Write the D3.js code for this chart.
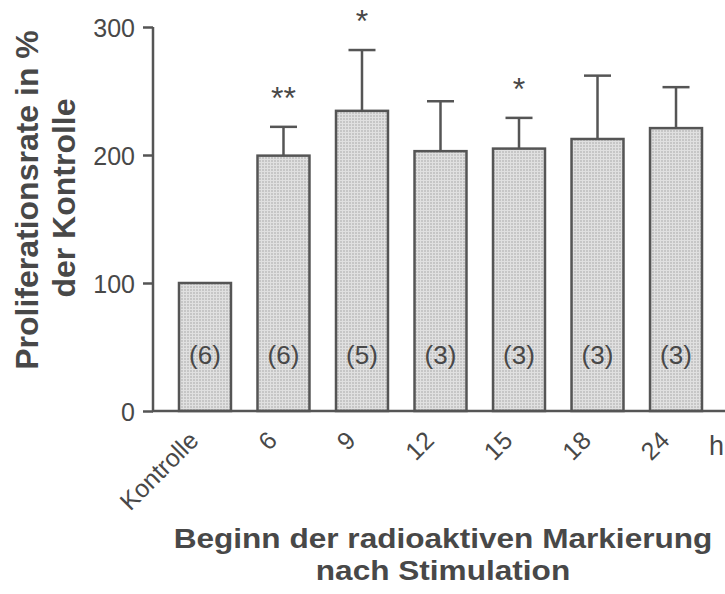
<!DOCTYPE html>
<html>
<head>
<meta charset="utf-8">
<script src="https://cdn.jsdelivr.net/npm/d3@7"></script>
<style>
  html, body { margin: 0; padding: 0; background: #fff; }
  svg { display: block; font-family: "Liberation Sans", Arial, sans-serif; }
</style>
</head>
<body>
<svg id="chart" width="725" height="594"></svg>
<script>
// ---- data ----
const categories = ["Kontrolle", "6", "9", "12", "15", "18", "24"];
const means      = [100, 199.5, 234.5, 203, 205, 212.5, 221];
const errUpper   = [100, 222, 282, 242, 229, 262, 253];
const nLabels    = ["(6)", "(6)", "(5)", "(3)", "(3)", "(3)", "(3)"];
const stars      = ["", "**", "*", "", "*", "", ""];
const yTicks     = [0, 100, 200, 300];
const yTitle     = ["Proliferationsrate in %", "der  Kontrolle"];
const xTitle     = ["Beginn der radioaktiven Markierung", "nach Stimulation"];
const xUnit      = "h";

// ---- layout ----
const svg = d3.select("#chart");
const ink = "#484848";
const axisInk = "#555";

const defs = svg.append("defs");
const pat = defs.append("pattern")
  .attr("id", "grid").attr("patternUnits", "userSpaceOnUse")
  .attr("width", 3).attr("height", 3);
pat.append("rect").attr("width", 3).attr("height", 3).attr("fill", "#c6c6c6");
pat.append("rect").attr("x", 0).attr("y", 0).attr("width", 3).attr("height", 1).attr("fill", "#e0e0e0");
pat.append("rect").attr("x", 0).attr("y", 0).attr("width", 1).attr("height", 3).attr("fill", "#e0e0e0");

const x = d3.scaleBand().domain(categories).range([179, 702]).paddingInner(0.338).paddingOuter(0);
const y = d3.scaleLinear().domain([0, 300]).range([411, 27]);
const axisX0 = 153;

// bars
svg.append("g").selectAll("rect").data(categories).join("rect")
  .attr("x", d => x(d))
  .attr("y", (d, i) => y(means[i]))
  .attr("width", x.bandwidth())
  .attr("height", (d, i) => y(0) - y(means[i]))
  .attr("fill", "url(#grid)")
  .attr("stroke", axisInk).attr("stroke-width", 2.5);

// error bars
const eb = svg.append("g").attr("stroke", axisInk).attr("stroke-width", 2.5);
categories.forEach((c, i) => {
  if (errUpper[i] <= means[i]) return;
  const cx = x(c) + x.bandwidth() / 2;
  eb.append("line").attr("x1", cx).attr("x2", cx).attr("y1", y(means[i])).attr("y2", y(errUpper[i]));
  eb.append("line").attr("x1", cx - 13.5).attr("x2", cx + 13.5).attr("y1", y(errUpper[i])).attr("y2", y(errUpper[i]));
});

// significance stars
svg.append("g").selectAll("text").data(categories).join("text")
  .attr("x", d => x(d) + x.bandwidth() / 2)
  .attr("y", (d, i) => y(errUpper[i]) - 18)
  .attr("text-anchor", "middle")
  .attr("font-size", 32).attr("fill", ink)
  .text((d, i) => stars[i]);

// n labels
svg.append("g").selectAll("text").data(categories).join("text")
  .attr("x", d => x(d) + x.bandwidth() / 2)
  .attr("y", 364)
  .attr("text-anchor", "middle")
  .attr("font-size", 26).attr("fill", ink)
  .text((d, i) => nLabels[i]);

// y axis
const yAxis = svg.append("g").attr("transform", `translate(${axisX0},0)`)
  .call(d3.axisLeft(y).tickValues(yTicks).tickSize(10).tickPadding(8).tickFormat(d3.format("d")));
yAxis.select(".domain").attr("stroke", axisInk).attr("stroke-width", 2.5).attr("d", `M0,${y(300)}V${y(0)}`);
yAxis.selectAll(".tick line").attr("stroke", axisInk).attr("stroke-width", 2.5);
yAxis.selectAll(".tick text").attr("font-size", 25).attr("fill", ink)
  .attr("font-family", "Liberation Sans, Arial, sans-serif").attr("dy", "0.36em");

// x axis line
svg.append("line").attr("x1", axisX0 - 1).attr("x2", 725).attr("y1", y(0)).attr("y2", y(0))
  .attr("stroke", axisInk).attr("stroke-width", 2.5);

// x tick labels (rotated)
svg.append("g").selectAll("text").data(categories).join("text")
  .attr("transform", d => `translate(${x(d) + x.bandwidth() / 2 - 5},${y(0) + 31}) rotate(-45)`)
  .attr("text-anchor", "end")
  .attr("font-size", 25).attr("fill", ink)
  .text(d => d);

// unit label
svg.append("text").attr("x", 709).attr("y", 455)
  .attr("font-size", 27).attr("fill", ink).text(xUnit);

// y title
const yt = svg.append("g").attr("font-size", 32).attr("font-weight", "bold").attr("fill", ink).attr("text-anchor", "middle");
yt.append("text").attr("transform", "translate(38,200) rotate(-90)").text(yTitle[0]);
yt.append("text").attr("transform", "translate(75,198) rotate(-90)").text(yTitle[1]);

// x title
const xt = svg.append("g").attr("font-size", 27).attr("font-weight", "bold").attr("fill", ink).attr("text-anchor", "middle");
xt.append("text").attr("transform", "translate(443,548) scale(1.17,1)").text(xTitle[0]);
xt.append("text").attr("transform", "translate(443,580) scale(1.17,1)").text(xTitle[1]);
</script>
</body>
</html>
